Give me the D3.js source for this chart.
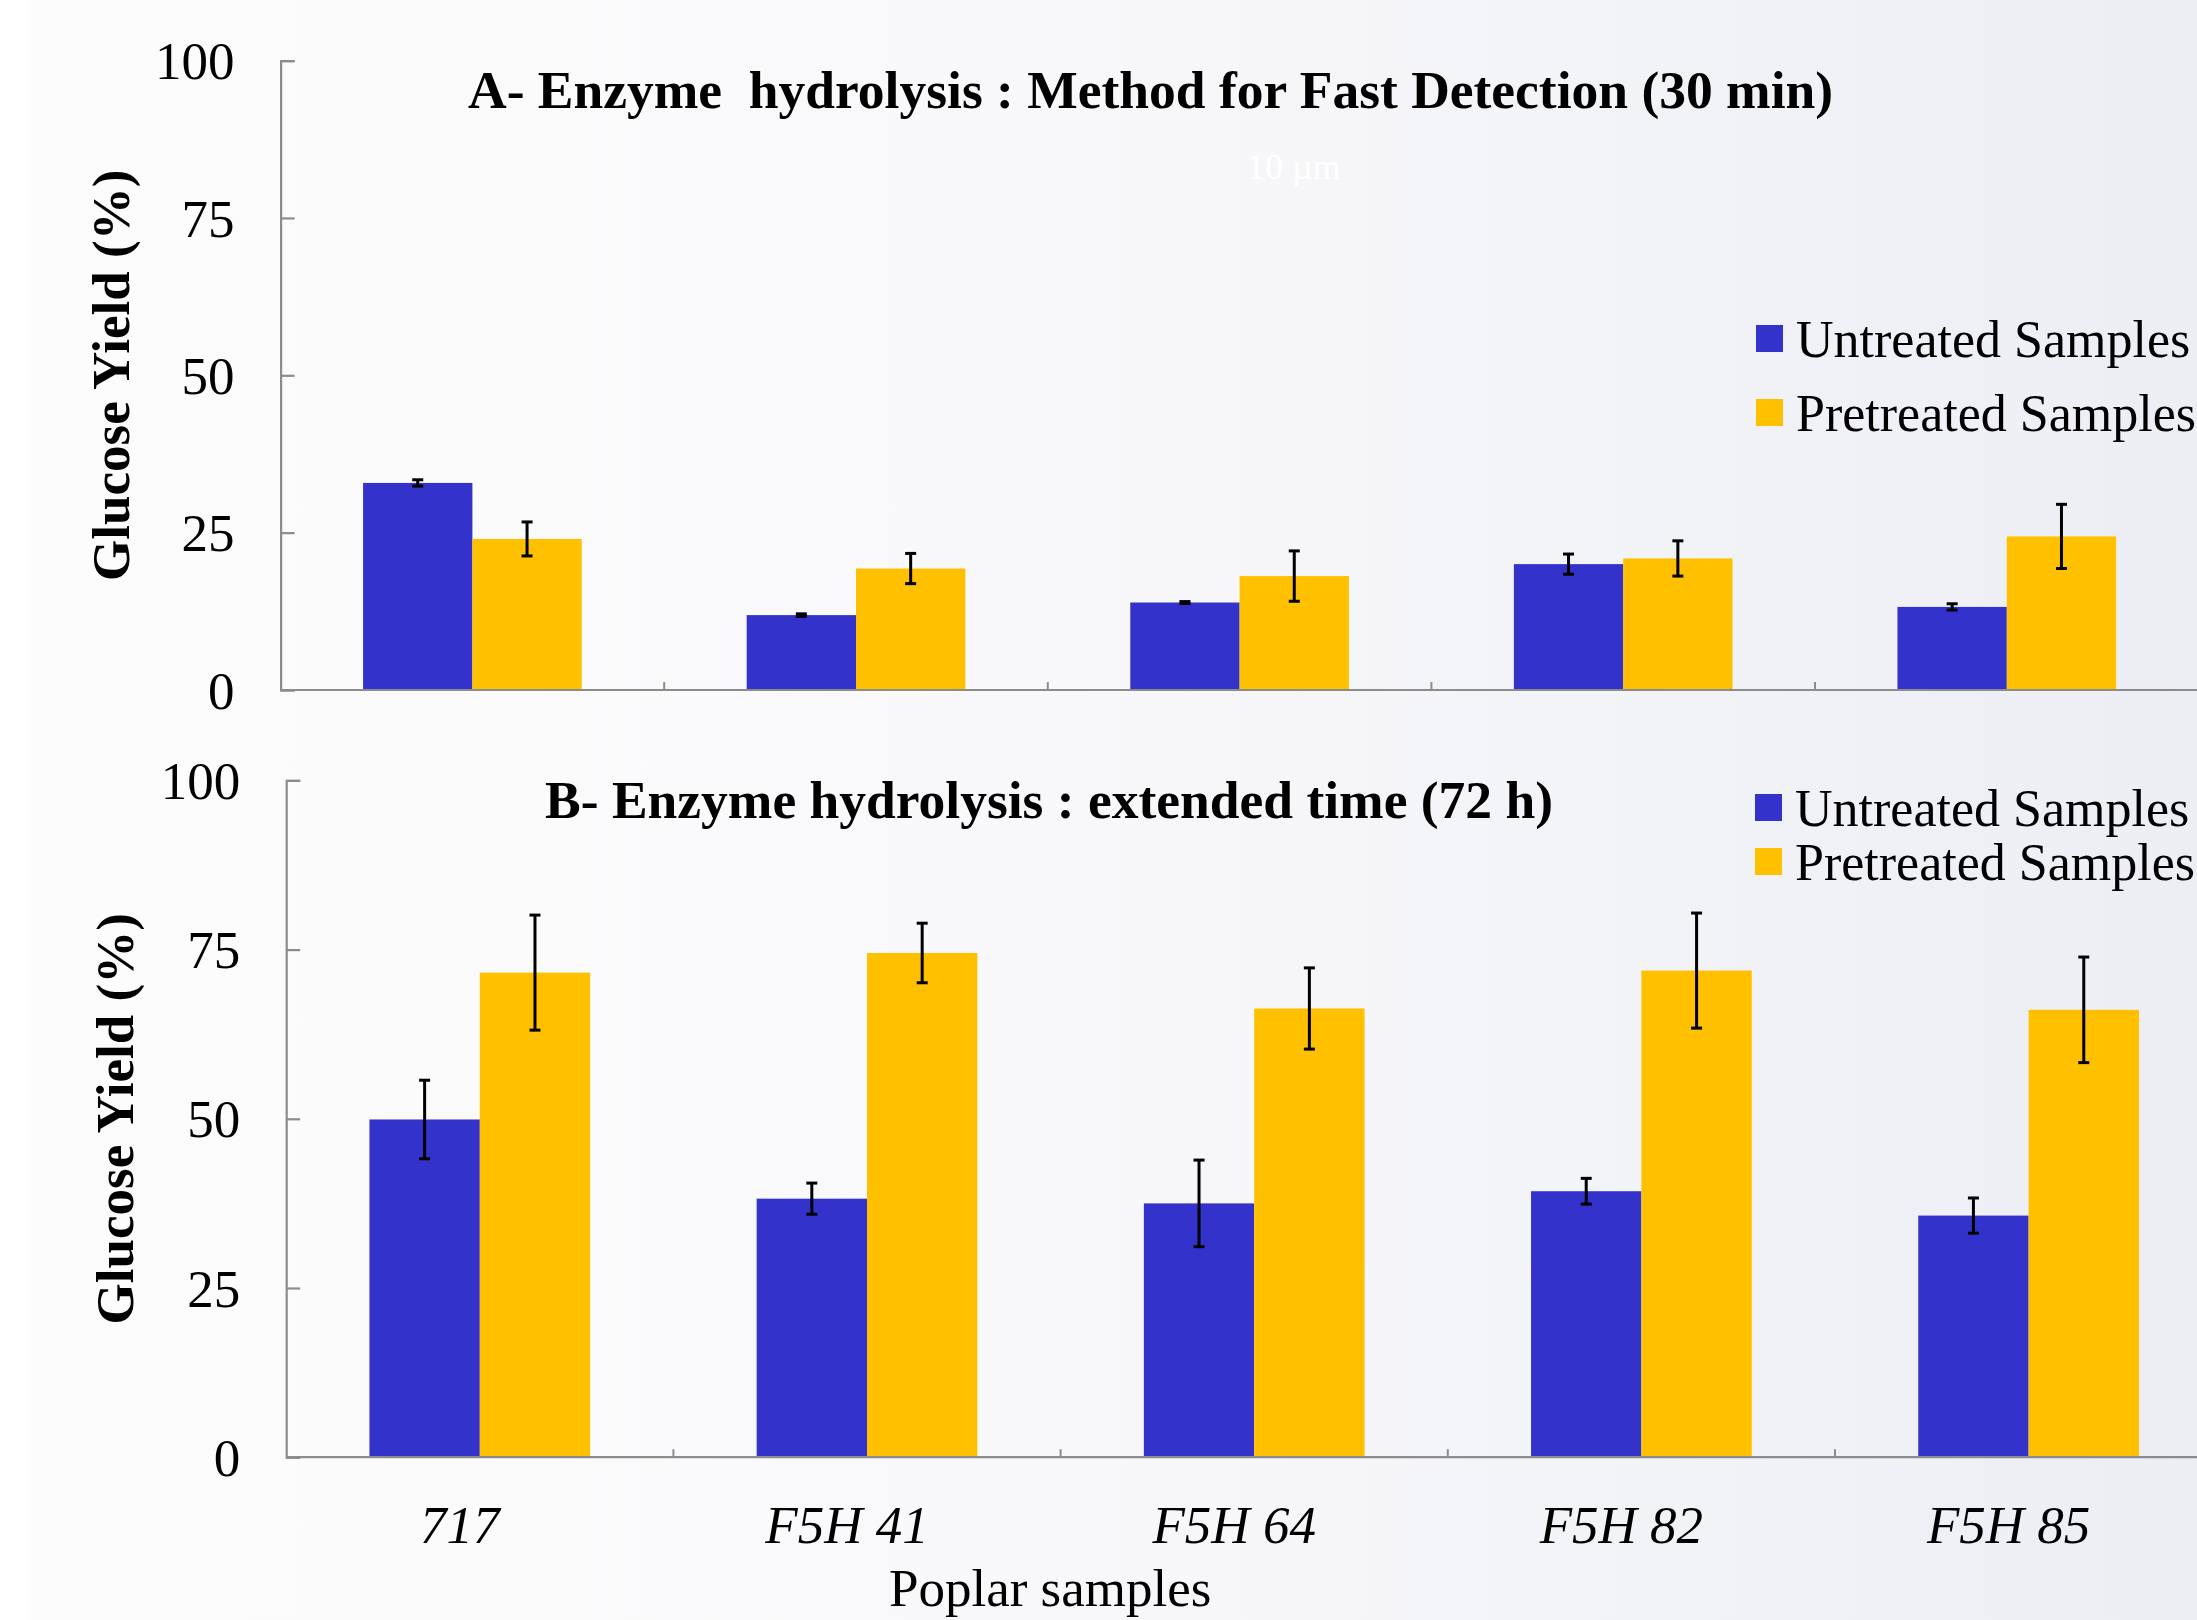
<!DOCTYPE html>
<html>
<head>
<meta charset="utf-8">
<script src="https://cdn.jsdelivr.net/npm/d3@7"></script>
<style>
  html, body { margin: 0; padding: 0; background: #fff; }
  svg text { font-family: "Liberation Serif", "Times New Roman", serif; fill: #000; }
</style>
</head>
<body>
<div id="chart"></div>
<script>
// poplar samples on the x axis
var samples = ["717", "F5H 41", "F5H 64", "F5H 82", "F5H 85"];
var seriesNames = ["Untreated Samples", "Pretreated Samples"];
var seriesColors = ["#3333cc", "#ffc000"];
var yTicks = [0, 25, 50, 75, 100];

// panel A - 30 min
var untreatedA = [32.9, 11.9, 13.9, 20.0, 13.2];
var untreatedAErr = [0.5, 0.2, 0.15, 1.6, 0.5];
var pretreatedA = [24.0, 19.3, 18.1, 20.9, 24.4];
var pretreatedAErr = [2.7, 2.4, 4.0, 2.8, 5.1];

// panel B - 72 h
var untreatedB = [49.9, 38.2, 37.5, 39.3, 35.7];
var untreatedBErr = [5.8, 2.3, 6.4, 1.9, 2.6];
var pretreatedB = [71.6, 74.5, 66.3, 71.9, 66.1];
var pretreatedBErr = [8.5, 4.4, 6.0, 8.5, 7.8];

var width = 2197, height = 1620;

var svg = d3.select("#chart").append("svg")
  .attr("width", width)
  .attr("height", height);

// soft background gradient, left to right
var grad = svg.append("defs").append("linearGradient")
  .attr("id", "bg").attr("x1", "0").attr("x2", "1").attr("y1", "0").attr("y2", "0");
grad.append("stop").attr("offset", "0").attr("stop-color", "#fdfcfd");
grad.append("stop").attr("offset", "0.5").attr("stop-color", "#f8f8fa");
grad.append("stop").attr("offset", "1").attr("stop-color", "#eceef4");
svg.append("rect").attr("width", width).attr("height", height).attr("fill", "url(#bg)");
svg.append("rect").attr("width", 28).attr("height", height).attr("fill", "#ffffff");

function drawPanel(opt) {
  var g = svg.append("g");
  var x = d3.scaleBand()
    .domain(samples)
    .range([opt.left, opt.left + opt.step * samples.length])
    .paddingInner(0.43)
    .paddingOuter(0.215);
  var xs = d3.scaleBand().domain(seriesNames).range([0, x.bandwidth()]);
  var y = d3.scaleLinear().domain([0, 100]).range([opt.bottom, opt.top]);

  var flat = d3.merge(samples.map(function (s, i) {
    return [
      { cat: s, name: seriesNames[0], v: opt.u[i], e: opt.ue[i], c: seriesColors[0] },
      { cat: s, name: seriesNames[1], v: opt.p[i], e: opt.pe[i], c: seriesColors[1] }
    ];
  }));

  g.selectAll("rect.bar")
    .data(flat)
    .enter().append("rect")
    .attr("class", "bar")
    .attr("x", function (d) { return x(d.cat) + xs(d.name); })
    .attr("width", xs.bandwidth())
    .attr("y", function (d) { return y(d.v); })
    .attr("height", function (d) { return y(0) - y(d.v); })
    .attr("fill", function (d) { return d.c; });

  // error bars
  var err = g.selectAll("g.err")
    .data(flat)
    .enter().append("g")
    .attr("class", "err")
    .attr("stroke", "#000")
    .attr("stroke-width", 3);
  var cx = function (d) { return x(d.cat) + xs(d.name) + xs.bandwidth() / 2; };
  err.append("line")
    .attr("x1", cx).attr("x2", cx)
    .attr("y1", function (d) { return y(d.v + d.e); })
    .attr("y2", function (d) { return y(d.v - d.e); });
  err.append("line")
    .attr("x1", function (d) { return cx(d) - 5.5; }).attr("x2", function (d) { return cx(d) + 5.5; })
    .attr("y1", function (d) { return y(d.v + d.e); })
    .attr("y2", function (d) { return y(d.v + d.e); });
  err.append("line")
    .attr("x1", function (d) { return cx(d) - 5.5; }).attr("x2", function (d) { return cx(d) + 5.5; })
    .attr("y1", function (d) { return y(d.v - d.e); })
    .attr("y2", function (d) { return y(d.v - d.e); });

  // axes (inner ticks)
  var axisCol = "#8c8c8c";
  var yAxis = g.append("g")
    .attr("transform", "translate(" + opt.left + ",0)")
    .call(d3.axisRight(y).tickValues(yTicks).tickSize(14).tickFormat(""));
  yAxis.select(".domain").attr("stroke", axisCol).attr("stroke-width", 2.2);
  yAxis.selectAll(".tick line").attr("stroke", axisCol).attr("stroke-width", 2.2);

  g.selectAll("text.ytick")
    .data(yTicks)
    .enter().append("text")
    .attr("class", "ytick")
    .attr("x", opt.left - 46)
    .attr("y", function (d) { return y(d); })
    .attr("dy", "0.35em")
    .attr("text-anchor", "end")
    .style("font-size", "53px")
    .text(function (d) { return d; });

  var xEnd = opt.left + opt.step * samples.length;
  g.append("line")
    .attr("x1", opt.left).attr("x2", xEnd)
    .attr("y1", y(0)).attr("y2", y(0))
    .attr("stroke", axisCol).attr("stroke-width", 2.2);
  // category separators
  g.selectAll("line.sep")
    .data(samples.slice(1))
    .enter().append("line")
    .attr("class", "sep")
    .attr("x1", function (d) { return x(d) - x.step() * 0.215; })
    .attr("x2", function (d) { return x(d) - x.step() * 0.215; })
    .attr("y1", y(0)).attr("y2", y(0) - 8)
    .attr("stroke", axisCol).attr("stroke-width", 2);

  // y title
  g.append("text")
    .attr("transform", "translate(" + opt.yTitleX + "," + (y(0) + y(100)) / 2 + ") rotate(-90)")
    .attr("text-anchor", "middle")
    .style("font-size", "53px")
    .style("font-weight", "bold")
    .text("Glucose Yield (%)");

  // panel title
  g.append("text")
    .attr("x", opt.titleX).attr("y", opt.titleY)
    .style("font-size", "53.5px")
    .style("font-weight", "bold")
    .style("white-space", "pre")
    .text(opt.title);

  // legend
  var leg = g.selectAll("g.leg")
    .data(seriesNames)
    .enter().append("g")
    .attr("class", "leg")
    .attr("transform", function (d, i) { return "translate(" + opt.legX + "," + (opt.legY + i * opt.legGap) + ")"; });
  leg.append("rect")
    .attr("width", 27).attr("height", 27).attr("y", -32)
    .attr("fill", function (d, i) { return seriesColors[i]; });
  leg.append("text")
    .attr("x", 40)
    .style("font-size", "52px")
    .text(function (d) { return d; });

  return { x: x, y: y };
}

drawPanel({
  left: 280.6, step: 383.6, top: 60.6, bottom: 690,
  u: untreatedA, ue: untreatedAErr, p: pretreatedA, pe: pretreatedAErr,
  yTitleX: 129,
  title: "A- Enzyme  hydrolysis : Method for Fast Detection (30 min)", titleX: 468, titleY: 108,
  legX: 1756, legY: 357, legGap: 74
});

var pb = drawPanel({
  left: 286.2, step: 387.2, top: 780.4, bottom: 1457.2,
  u: untreatedB, ue: untreatedBErr, p: pretreatedB, pe: pretreatedBErr,
  yTitleX: 133,
  title: "B- Enzyme hydrolysis : extended time (72 h)", titleX: 545, titleY: 818,
  legX: 1755, legY: 826, legGap: 54
});

// sample names under panel B
svg.selectAll("text.xlab")
  .data(samples)
  .enter().append("text")
  .attr("class", "xlab")
  .attr("x", function (d) { return pb.x(d) + pb.x.bandwidth() / 2 - 20; })
  .attr("y", 1543)
  .attr("text-anchor", "middle")
  .style("font-size", "53px")
  .style("font-style", "italic")
  .text(function (d) { return d; });

svg.append("text")
  .attr("x", 889).attr("y", 1606)
  .style("font-size", "53px")
  .text("Poplar samples");

// faint scale-bar leftover in the source image
svg.append("text")
  .attr("x", 1247).attr("y", 179)
  .style("font-size", "36px")
  .style("fill", "#ffffff")
  .text("10 µm");
</script>
</body>
</html>
